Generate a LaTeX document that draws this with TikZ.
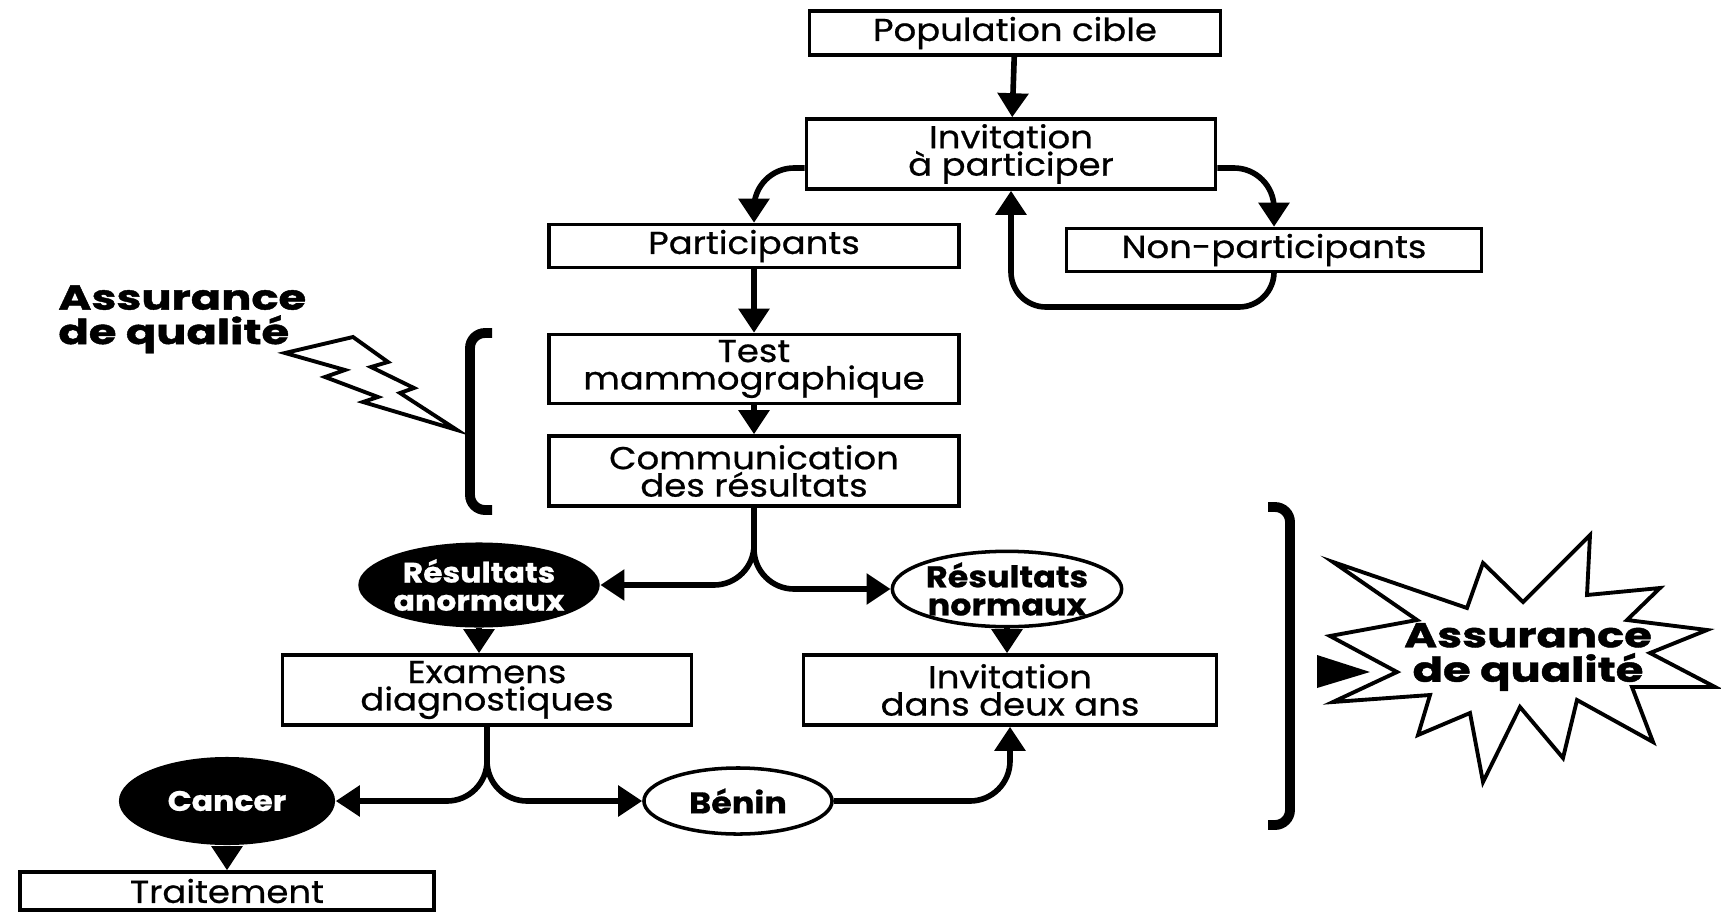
\documentclass[tikz,border=0pt]{standalone}
\usepackage{fontspec}
\setmainfont{Poppins}[FakeStretch=1.12,FakeBold=0.7]
\newfontfamily\heavyfont{Poppins}[FakeStretch=1.3,FakeBold=1.2]
\newcommand\tightlines{\lineskiplimit-10pt\relax}
\usetikzlibrary{arrows.meta,shapes.geometric}

\begin{document}
\begin{tikzpicture}[x=0.01cm,y=-0.01cm,
  box/.style={draw,line width=1pt,rectangle,align=center,inner sep=0pt,font=\tightlines\fontsize{9}{7.8}\selectfont},
  dark node/.style={ellipse,fill=black,text=white,inner sep=0pt,align=center,font=\tightlines\bfseries\fontsize{8}{8}\selectfont},
  light node/.style={ellipse,draw,line width=1pt,fill=white,inner sep=0pt,align=center,font=\tightlines\bfseries\fontsize{8.5}{8}\selectfont},
  arr/.style={-{Triangle[length=2.4mm,width=3mm]},line width=1.6pt},
  bracket/.style={line width=2.8pt,rounded corners=1.5mm},
  heavy/.style={font=\tightlines\heavyfont\bfseries\fontsize{9.8}{9.8}\selectfont}]
  \useasboundingbox (0,0) rectangle (1721,912);

  % main chain
  \node[box,minimum width=4.11cm,minimum height=0.44cm] (pop) at (1015,33) {Population cible};
  \node[box,minimum width=4.09cm,minimum height=0.70cm] (inv) at (1011,154) {Invitation\\à participer};
  \node[box,minimum width=4.10cm,minimum height=0.43cm] (part) at (754,246) {Participants};
  \node[box,minimum width=4.15cm,minimum height=0.43cm] (nonp) at (1274,250) {Non-participants};
  \node[box,minimum width=4.10cm,minimum height=0.69cm] (test) at (754,369) {Test\\mammographique};
  \node[box,minimum width=4.10cm,minimum height=0.70cm] (comm) at (754,471) {Communication\\des résultats};
  \node[dark node,minimum width=1.94cm,minimum height=0.85cm] (anorm) at (479,585) {Résultats\\anormaux};
  \node[light node,minimum width=2.10cm,minimum height=0.70cm] (norm) at (1007,589) {Résultats\\normaux};
  \node[box,minimum width=4.09cm,minimum height=0.70cm] (exam) at (487,690) {Examens\\diagnostiques};
  \node[box,minimum width=4.13cm,minimum height=0.70cm] (inv2) at (1010,690) {Invitation\\dans deux ans};
  \node[dark node,minimum width=2.16cm,minimum height=0.88cm] (cancer) at (227,801) {Cancer};
  \node[light node,minimum width=1.88cm,minimum height=0.66cm] (benin) at (738,801) {Bénin};
  \node[box,minimum width=4.14cm,minimum height=0.38cm] (treat) at (227,891) {Traitement};

  % connectors
  \draw[arr] (pop) -- (inv);
  \draw[arr,rounded corners=4mm] ([yshift=-1.4mm]inv.west) -| (part.north);
  \draw[arr,rounded corners=4mm] ([yshift=-1.4mm]inv.east) -| (nonp.north);
  \draw[arr,rounded corners=3.5mm] (nonp.south) -- (nonp.south |- 0,307) -- (inv.south |- 0,307) -- (inv.south);
  \draw[arr] (part) -- (test);
  \draw[arr] (test) -- (comm);
  \draw[arr,rounded corners=4mm] (comm.south) |- (anorm.east);
  \draw[arr,rounded corners=4mm] (comm.south) |- (norm.west);
  \draw[arr] (anorm.south) -- (anorm.south |- exam.north);
  \draw[arr] (norm.south) -- (norm.south |- inv2.north);
  \draw[arr,rounded corners=4mm] (exam.south) |- (cancer.east);
  \draw[arr,rounded corners=4mm] (exam.south) |- (benin.west);
  \draw[arr,rounded corners=4mm] (benin.east) -| (inv2.south);
  \draw[arr] (cancer.south) -- (cancer.south |- treat.north);

  % quality notes
  \node[heavy,anchor=north west,align=left] (aq1) at (46,273) {Assurance\\de qualité};
  \draw[line width=1.1pt,line join=miter] (285,353) -- (353,337) -- (388,362) -- (371,367) -- (414,388) -- (400,393)
    -- (457,430) -- (363,402) -- (378,397) -- (325,377) -- (345,370) -- cycle;
  \draw[bracket] (492,333) -- (470,333) -- (470,510) -- (492,510);
  \draw[bracket] (1268,507) -- (1290,507) -- (1290,825) -- (1268,825);
  \fill (1317,655) -- (1370,672) -- (1317,688) -- cycle;
  \draw[line width=1.1pt,line join=miter,fill=white] (1333,562) -- (1467,608) -- (1483,563) -- (1523,602) -- (1590,535)
    -- (1587,595) -- (1660,588) -- (1627,620) -- (1707,630) -- (1650,653) -- (1715,687) -- (1632,687)
    -- (1653,742) -- (1577,700) -- (1563,758) -- (1520,707) -- (1483,782) -- (1470,713) -- (1418,735)
    -- (1430,695) -- (1333,702) -- (1397,672) -- (1330,636) -- (1417,620) -- cycle;
  \node[heavy,align=center] (aq2) at (1528,657) {Assurance\\de qualité};
\end{tikzpicture}
\end{document}
